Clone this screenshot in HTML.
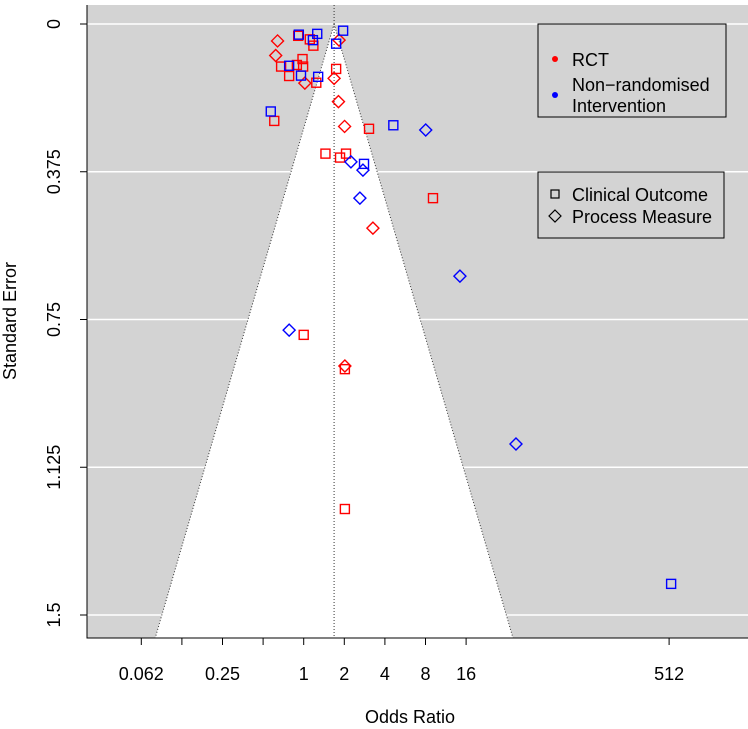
<!DOCTYPE html>
<html><head><meta charset="utf-8"><style>
body{margin:0;background:#fff;}
svg{display:block;font-family:"Liberation Sans",Arial,sans-serif;}
</style></head><body>
<svg id="chart" width="748" height="729" viewBox="0 0 748 729"></svg>
<script>
// data (odds ratio, standard error)
const rctSquareOR=[0.91,1.11,1.18,0.98,0.68,0.89,0.99,0.78,1.24,1.74,0.605,3.05,1.45,2.06,1.86,9.09,1.0,2.02,2.02];
const rctSquareSE=[0.030,0.039,0.055,0.089,0.108,0.104,0.108,0.132,0.149,0.114,0.246,0.266,0.329,0.329,0.339,0.442,0.789,0.876,1.231];
const rctDiamondOR=[0.64,0.62,1.02,1.68,1.81,2.01,1.83,3.26,2.02];
const rctDiamondSE=[0.043,0.080,0.150,0.138,0.197,0.260,0.041,0.518,0.868];
const nriSquareOR=[0.92,1.26,1.17,1.96,1.74,0.78,0.955,1.28,0.57,4.62,2.80,530];
const nriSquareSE=[0.027,0.025,0.041,0.017,0.050,0.106,0.131,0.134,0.222,0.257,0.355,1.421];
const nriDiamondOR=[8.03,2.24,2.75,2.61,14.4,0.78,37.5];
const nriDiamondSE=[0.269,0.350,0.371,0.442,0.640,0.777,1.066];
const xTickVals=[0.0625,0.125,0.25,0.5,1,2,4,8,16,512];
const xTickLabels=["0.062","","0.25","","1","2","4","8","16","512"];
const yTickVals=[0,0.375,0.75,1.125,1.5];
const yTickLabels=["0","0.375","0.75","1.125","1.5"];
const pooledOR=1.68;

const NS="http://www.w3.org/2000/svg";
const svg=document.getElementById('chart');
const L=87,R=748,T=5,B=638,FS=18;
const xS=v=>303.7+40.6*Math.log2(v);
const yS=s=>24+394*s;
const seBottom=(B-24)/394;
function mk(tag,attrs,parent){const e=document.createElementNS(NS,tag);for(const k in attrs)e.setAttribute(k,attrs[k]);(parent||svg).appendChild(e);return e;}

const bg=mk('rect',{x:L,y:T,width:R-L,height:B-T,fill:'#d3d3d3'});


yTickVals.forEach((v,i)=>{
  const g=mk('line',{x1:L,x2:R,y1:yS(v),y2:yS(v),stroke:'#fff','stroke-width':1.5});
  
  
});
// funnel
const xc=xS(pooledOR);
const hw=1.96*seBottom/Math.LN2*40.6;
const fun=mk('polygon',{points:`${xc},${yS(0)} ${xc-hw},${B} ${xc+hw},${B}`,fill:'#fff'});


[[xc-hw],[xc+hw]].forEach(([xe],i)=>{
  const l=mk('line',{x1:xc,y1:yS(0),x2:xe,y2:B,stroke:'#333','stroke-width':1,'stroke-dasharray':'1,2'});
  
  
});
const cl=mk('line',{x1:xc,y1:T,x2:xc,y2:B,stroke:'#333','stroke-width':1,'stroke-dasharray':'1,2'});



function sq(x,y,c,name){const e=mk('rect',{x:x-4.5,y:y-4.5,width:9,height:9,fill:'none',stroke:c,'stroke-width':1.4});
  
  }
function dm(x,y,c,name){const r=6;const e=mk('polygon',{points:`${x},${y-r} ${x+r},${y} ${x},${y+r} ${x-r},${y}`,fill:'none',stroke:c,'stroke-width':1.4});
  
  }
rctSquareOR.forEach((v,i)=>sq(xS(v),yS(rctSquareSE[i]),'#f00','rct-clinical-point'));
rctDiamondOR.forEach((v,i)=>dm(xS(v),yS(rctDiamondSE[i]),'#f00','rct-process-point'));
nriSquareOR.forEach((v,i)=>sq(xS(v),yS(nriSquareSE[i]),'#00f','nri-clinical-point'));
nriDiamondOR.forEach((v,i)=>dm(xS(v),yS(nriDiamondSE[i]),'#00f','nri-process-point'));

// axes
const ax=mk('path',{d:`M${L},${T} V${B} H${R}`,fill:'none',stroke:'#000','stroke-width':1});


xTickVals.forEach((v,i)=>{
  mk('line',{x1:xS(v),x2:xS(v),y1:B,y2:B+7,stroke:'#000'});
  if(xTickLabels[i]){const t=mk('text',{x:xS(v),y:680,'text-anchor':'middle','font-size':FS});t.textContent=xTickLabels[i];
  
  }
});
yTickVals.forEach((v,i)=>{
  mk('line',{x1:L-7,x2:L,y1:yS(v),y2:yS(v),stroke:'#000'});
  const t=mk('text',{x:0,y:0,'text-anchor':'middle','font-size':FS,transform:`translate(60,${yS(v)}) rotate(-90)`});t.textContent=yTickLabels[i];
  
  
});
const xt=mk('text',{x:410,y:723,'text-anchor':'middle','font-size':FS});xt.textContent='Odds Ratio';


const yt=mk('text',{x:0,y:0,'text-anchor':'middle','font-size':FS,transform:'translate(16,321) rotate(-90)'});yt.textContent='Standard Error';



// legends
const lg1=mk('g',{});


mk('rect',{x:538,y:24,width:188,height:93,fill:'#d3d3d3',stroke:'#000'},lg1);
mk('circle',{cx:555,cy:59,r:3,fill:'#f00'},lg1);
let t=mk('text',{x:572,y:66,'font-size':FS},lg1);t.textContent='RCT';
mk('circle',{cx:555,cy:95,r:3,fill:'#00f'},lg1);
t=mk('text',{x:572,y:91,'font-size':FS},lg1);t.textContent='Non\u2212randomised';
t=mk('text',{x:572,y:112,'font-size':FS},lg1);t.textContent='Intervention';
const lg2=mk('g',{});


mk('rect',{x:538,y:172,width:186,height:66,fill:'#d3d3d3',stroke:'#000'},lg2);
mk('rect',{x:551,y:190,width:8,height:8,fill:'none',stroke:'#000','stroke-width':1.2},lg2);
t=mk('text',{x:572,y:201,'font-size':FS},lg2);t.textContent='Clinical Outcome';
mk('polygon',{points:'555,210 561,216 555,222 549,216',fill:'none',stroke:'#000','stroke-width':1.2},lg2);
t=mk('text',{x:572,y:223,'font-size':FS},lg2);t.textContent='Process Measure';
</script>
</body></html>
